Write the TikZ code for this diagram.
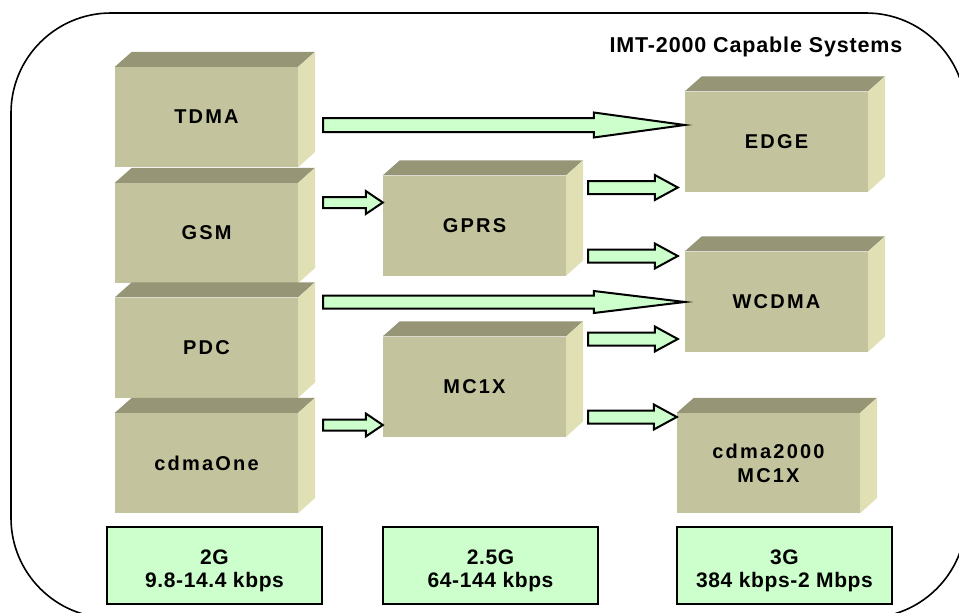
\documentclass[tikz,border=0pt]{standalone}
\usepackage{fontspec}
\setmainfont{Liberation Sans}
\newfontfamily\boxfont{Liberation Sans}[LetterSpace=11]
\newfontfamily\speedfont{Liberation Sans}[LetterSpace=3]
\newfontfamily\titlefont{Liberation Sans}[LetterSpace=4]
\usetikzlibrary{calc}
\definecolor{cubefront}{RGB}{195,196,157}
\definecolor{cubetop}{RGB}{150,149,118}
\definecolor{cubeside}{RGB}{225,224,181}
\definecolor{lightgreen}{RGB}{204,255,204}
\tikzset{
  cube/.style={fill=cubefront, minimum width=183pt, minimum height=100pt, inner sep=0pt,
    align=center, font=\boxfont\bfseries\fontsize{20}{24}\selectfont},
  speed/.style={draw=black, line width=2pt, fill=lightgreen, minimum width=215pt, minimum height=77pt,
    inner sep=0pt, align=center, font=\speedfont\bfseries\fontsize{21}{23}\selectfont},
  fat/.style={draw=black, line width=2pt, fill=lightgreen, line join=miter},
  frame/.style={draw=black, line width=1.6pt, rounded corners=100pt}
}
\newcommand\cube[3]{%
  \node[cube] (#1) at (#2) {#3};
  \fill[cubetop] (#1.north west) -- ++(17,-15) -- ++(183,0) -- (#1.north east) -- cycle;
  \fill[cubeside] (#1.north east) -- ++(17,-15) -- ++(0,100) -- (#1.south east) -- cycle;
}
\newcommand\strutdown{\rule{0pt}{25pt}}
% #1 start coordinate, #2 end point, #3 shaft half, #4 head half, #5 head length
\newcommand\fatarrow[5]{%
  \draw[fat] let \p1=(#1), \p2=(#2) in
    (\x1,\y1+#3) -- (\x2-#5,\y1+#3) -- (\x2-#5,\y1+#4) -- (\x2,\y1)
    -- (\x2-#5,\y1-#4) -- (\x2-#5,\y1-#3) -- (\x1,\y1-#3) -- cycle;
}
\begin{document}
\begin{tikzpicture}[x=1pt,y=-1pt]
\useasboundingbox (0,0) rectangle (959,613);
\begin{scope}
  \clip (0,0) rectangle (959,613);
  \draw[frame] (11,13) rectangle (966,618);
\end{scope}

\node[anchor=base, font=\titlefont\bfseries\fontsize{21.5}{25}\selectfont] (title) at (756,52) {IMT-2000 Capable Systems};

% 2G column
\cube{tdma}{206.5,117}{TDMA}
\cube{gsm}{206.5,233}{GSM}
\cube{pdc}{206.5,347.5}{PDC}
\cube{cdmaone}{206.5,463}{cdmaOne}
% 2.5G column
\cube{gprs}{474.5,225.5}{GPRS}
\cube{mcx}{474.5,386.5}{MC1X}
% 3G column
\cube{edge}{776.5,141.5}{EDGE}
\cube{wcdma}{776.5,301.5}{WCDMA}
\cube{cdmak}{768.5,463}{cdma2000\\MC1X}

% speed labels
\node[speed] (g2) at (214.5,565.5) {\strutdown 2G\\9.8-14.4 kbps};
\node[speed] (g25) at (490.5,565.5) {\strutdown 2.5G\\64-144 kbps};
\node[speed] (g3) at (784.5,565.5) {\strutdown 3G\\384 kbps-2 Mbps};

% arrow start points
\coordinate (s1) at (323,125);
\coordinate (s2) at (323,202.5);
\coordinate (s3) at (588,187.5);
\coordinate (s4) at (588,256);
\coordinate (s5) at (323,302);
\coordinate (s6) at (588,339);
\coordinate (s7) at (323,425);
\coordinate (s8) at (588,417);

\fatarrow{s1}{edge.west}{7pt}{12.5pt}{91pt}
\fatarrow{s2}{gsm.west -| gprs.west}{5.5pt}{11.5pt}{17pt}
\fatarrow{s3}{$(edge.west)+(-7,0)$}{6.5pt}{12.5pt}{23pt}
\fatarrow{s4}{$(wcdma.west)+(-7,0)$}{6.5pt}{12.5pt}{23pt}
\fatarrow{s5}{wcdma.west}{6.5pt}{11pt}{91pt}
\fatarrow{s6}{$(wcdma.west)+(-7,0)$}{6.5pt}{12.5pt}{23pt}
\fatarrow{s7}{mcx.west}{5.5pt}{11.5pt}{17pt}
\fatarrow{s8}{cdmak.west}{6.5pt}{12.5pt}{23pt}
\end{tikzpicture}
\end{document}
